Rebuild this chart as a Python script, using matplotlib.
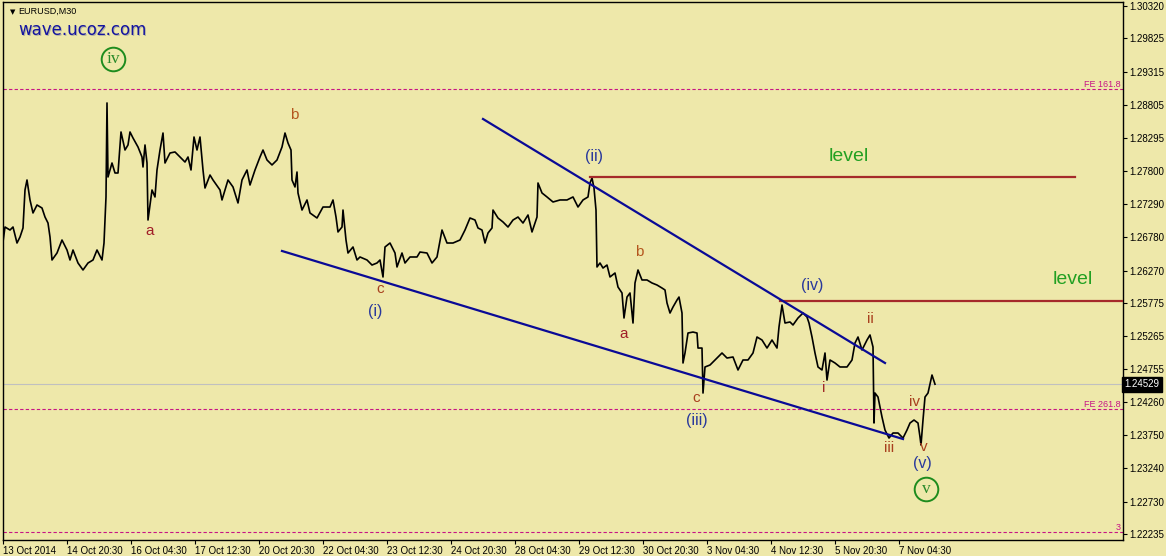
import matplotlib
matplotlib.use("Agg")
import matplotlib.pyplot as plt

# EURUSD M30 close prices (bar index, price)
bars = [0, 2, 7, 10, 14, 17, 20, 22, 24, 27, 30, 34, 39, 42, 45, 47, 49, 54, 59, 64,
        67, 70, 75, 80, 85, 90, 94, 99, 101, 103, 104, 105, 109, 112, 115, 118, 122, 125, 127, 130,
        135, 139, 140, 142, 144, 145, 149, 152, 154, 157, 160, 162, 167, 172, 177, 182, 185, 188, 191, 194,
        197, 200, 202, 207, 210, 217, 219, 222, 225, 230, 235, 239, 244, 247, 252, 257, 260, 264, 269, 274,
        279, 282, 285, 288, 289, 292, 294, 295, 299, 304, 307, 314, 320, 327, 330, 333, 335, 339, 340, 343,
        345, 350, 354, 357, 364, 369, 374, 377, 380, 382, 387, 392, 394, 399, 402, 407, 414, 417, 424, 429,
        434, 439, 444, 450, 457, 462, 467, 472, 475, 479, 482, 485, 489, 490, 495, 500, 505, 510, 515, 520,
        525, 529, 534, 535, 539, 544, 550, 557, 564, 570, 575, 580, 585, 587, 589, 591, 593, 594, 597, 600,
        604, 607, 612, 615, 619, 621, 624, 627, 630, 632, 635, 639, 644, 649, 654, 659, 662, 664, 667, 670,
        674, 676, 679, 680, 682, 685, 690, 694, 695, 699, 700, 702, 707, 714, 719, 724, 730, 735, 740, 745,
        750, 754, 759, 764, 769, 774, 776, 779, 782, 787, 790, 795, 800, 804, 806, 809, 812, 815, 819, 822,
        824, 827, 832, 837, 844, 849, 852, 855, 859, 864, 867, 870, 871, 872, 875, 879, 882, 886, 890, 895,
        900, 904, 907, 911, 915, 917, 918, 920, 922, 925, 929, 932]
close = [1.26707, 1.26936, 1.26890, 1.26936, 1.26691, 1.26783, 1.26921, 1.27503, 1.27656, 1.27350,
         1.27151, 1.27273, 1.27227, 1.27089, 1.26997, 1.26783, 1.26431, 1.26538, 1.26737, 1.26584,
         1.26431, 1.26584, 1.26385, 1.26278, 1.26385, 1.26431, 1.26584, 1.26431, 1.26691, 1.27396,
         1.28835, 1.27702, 1.27916, 1.27763, 1.27763, 1.28391, 1.28115, 1.28192, 1.28391, 1.28299,
         1.28161, 1.28008, 1.27855, 1.28192, 1.27916, 1.27043, 1.27503, 1.27396, 1.27809, 1.28115,
         1.28375, 1.27916, 1.28069, 1.28085, 1.28008, 1.27931, 1.28008, 1.27809, 1.28314, 1.28115,
         1.28314, 1.27809, 1.27533, 1.27732, 1.27656, 1.27503, 1.27350, 1.27503, 1.27656, 1.27549,
         1.27304, 1.27656, 1.27809, 1.27579, 1.27809, 1.28008, 1.28115, 1.27962, 1.27886, 1.27962,
         1.28161, 1.28375, 1.28222, 1.28115, 1.27656, 1.27549, 1.27778, 1.27457, 1.27196, 1.27350,
         1.27151, 1.27074, 1.27242, 1.27242, 1.27350, 1.27089, 1.26860, 1.26936, 1.27196, 1.26737,
         1.26538, 1.26630, 1.26431, 1.26477, 1.26431, 1.26354, 1.26385, 1.26431, 1.26171, 1.26630,
         1.26691, 1.26538, 1.26324, 1.26538, 1.26385, 1.26477, 1.26477, 1.26553, 1.26538, 1.26385,
         1.26477, 1.26890, 1.26691, 1.26691, 1.26737, 1.26890, 1.27074, 1.27043, 1.26921, 1.26890,
         1.26691, 1.26844, 1.26921, 1.27196, 1.27074, 1.27013, 1.26936, 1.27043, 1.27089, 1.26997,
         1.27120, 1.26860, 1.27089, 1.27610, 1.27457, 1.27396, 1.27319, 1.27350, 1.27350, 1.27396,
         1.27242, 1.27350, 1.27396, 1.27610, 1.27686, 1.27533, 1.27196, 1.26324, 1.26385, 1.26308,
         1.26354, 1.26171, 1.26232, 1.26017, 1.25926, 1.25543, 1.25864, 1.25926, 1.25466, 1.26079,
         1.26278, 1.26125, 1.26125, 1.26079, 1.26048, 1.26002, 1.25972, 1.25773, 1.25619, 1.25711,
         1.25818, 1.25864, 1.25619, 1.24854, 1.25007, 1.25313, 1.25328, 1.25313, 1.25083, 1.25083,
         1.24394, 1.24793, 1.24823, 1.24930, 1.25007, 1.24930, 1.24946, 1.24747, 1.24900, 1.24900,
         1.25007, 1.25252, 1.25206, 1.25083, 1.25206, 1.25083, 1.25405, 1.25742, 1.25466, 1.25482,
         1.25436, 1.25543, 1.25619, 1.25558, 1.25466, 1.25252, 1.25007, 1.24793, 1.24747, 1.25007,
         1.24593, 1.24900, 1.24854, 1.24793, 1.24793, 1.24900, 1.25160, 1.25252, 1.25053, 1.25206,
         1.25283, 1.25099, 1.23935, 1.24394, 1.24333, 1.24027, 1.23828, 1.23705, 1.23782, 1.23782,
         1.23705, 1.23828, 1.23935, 1.23981, 1.23935, 1.23721, 1.23598, 1.23981, 1.24333, 1.24394,
         1.24670, 1.24529]

last_price = 1.24529

# wedge trend lines (start/end bar, price)
lower_x = [279, 900]
lower_y = [1.26569, 1.23690]
upper_x = [480, 882]
upper_y = [1.28590, 1.24854]

# resistance levels
level_prices = [1.27702, 1.25803]
level_starts = [587, 777]
level_ends = [1072, 1120]

# fibonacci expansion lines
fe_prices = [1.29049, 1.24149, 1.22268]
fe_labels = ["FE 161.8", "FE 261.8", "3"]

yticks = [1.30320, 1.29825, 1.29315, 1.28805, 1.28295, 1.27800, 1.27290, 1.26780, 1.26270,
          1.25775, 1.25265, 1.24755, 1.24260, 1.23750, 1.23240, 1.22730, 1.22235]
xticks = [0, 64, 128, 192, 256, 320, 384, 448, 512, 576, 640, 704, 768, 832, 896]
xlabels = ["13 Oct 2014", "14 Oct 20:30", "16 Oct 04:30", "17 Oct 12:30", "20 Oct 20:30",
           "22 Oct 04:30", "23 Oct 12:30", "24 Oct 20:30", "28 Oct 04:30", "29 Oct 12:30",
           "30 Oct 20:30", "3 Nov 04:30", "4 Nov 12:30", "5 Nov 20:30", "7 Nov 04:30"]

# wave labels: (text, bar, price, colour)
minor_labels = [("a", 147, 1.26875, "#a01e28"), ("b", 291, 1.28651, "#b4561e"),
                ("c", 377, 1.25987, "#a8401e"), ("a", 621, 1.25298, "#a01e28"),
                ("b", 636, 1.26553, "#b4561e"), ("c", 693, 1.24318, "#a8401e"),
                ("i", 821, 1.24471, "#a02a28"), ("ii", 867, 1.25528, "#a8401e"),
                ("iii", 886, 1.23552, "#a8401e"), ("iv", 912, 1.24256, "#a8401e"),
                ("v", 921, 1.23568, "#a8401e")]
inter_labels = [("(i)", 372, 1.25650), ("(ii)", 591, 1.28008), ("(iii)", 694, 1.23966),
                ("(iv)", 809, 1.26048), ("(v)", 919, 1.23322)]
circled = [("iv", 110, 1.29509), ("v", 923, 1.22925)]
level_text = [(846, 1.28008), (1070, 1.26125)]

bg = "#eee8aa"
plt.rcParams["font.family"] = ["Liberation Sans", "DejaVu Sans"]

fig = plt.figure(figsize=(11.66, 5.56), dpi=100, facecolor=bg)
ax = fig.add_axes([3 / 1166, 16 / 556, 1120 / 1166, 538 / 556])
ax.set_facecolor(bg)
ax.set_xlim(0, 1120)
ax.set_ylim(1.22144, 1.30381)

ax.axhline(last_price, color="#c0c0c0", lw=0.8, zorder=1)
for p, lab in zip(fe_prices, fe_labels):
    ax.axhline(p, color="#c71585", lw=0.8, ls=(0, (3, 2)), zorder=1)
    ax.text(1118, p, lab, color="#c71585", fontsize=6.5, ha="right", va="bottom")

ax.plot(bars, close, color="black", lw=1.2, zorder=2)

for x0, x1, p in zip(level_starts, level_ends, level_prices):
    ax.plot([x0, x1], [p, p], color="#a52a2a", lw=1.6, zorder=3)
ax.plot(lower_x, lower_y, color="#0a0a96", lw=1.6, zorder=3)
ax.plot(upper_x, upper_y, color="#0a0a96", lw=1.6, zorder=3)

for t, x, y, c in minor_labels:
    ax.text(x, y, t, color=c, fontsize=11, ha="center", va="center", zorder=4)
for t, x, y in inter_labels:
    ax.text(x, y, t, color="#28389c", fontsize=11.5, ha="center", va="center", zorder=4)
for t, x, y in circled:
    ax.plot([x], [y], "o", ms=17, mfc="none", mec="#1e8c1e", mew=1.4, zorder=4)
    ax.text(x, y, t, color="#2a8a2a", fontsize=12.5, family="Liberation Serif",
            ha="center", va="center", zorder=4)
for x, y in level_text:
    ax.text(x, y, "level", color="#22a022", fontsize=14, ha="center", va="center", zorder=4)

ax.text(16, 1.29932, "wave.ucoz.com", color="#b4b4a0", fontsize=12, family="DejaVu Sans",
        ha="left", va="center", zorder=4)
ax.text(15, 1.29952, "wave.ucoz.com", color="#1414a0", fontsize=12, family="DejaVu Sans",
        ha="left", va="center", zorder=5)
ax.text(0.006, 0.982, "\u25bc", transform=ax.transAxes, fontsize=5, family="DejaVu Sans",
        ha="left", va="center")
ax.text(0.014, 0.982, "EURUSD,M30", transform=ax.transAxes, fontsize=6.5, ha="left", va="center")

ax.yaxis.tick_right()
ax.set_yticks(yticks)
ax.set_yticklabels([f"{v:.5f}" for v in yticks])
ax.set_xticks(xticks)
ax.set_xticklabels(xlabels, ha="left")
ax.tick_params(axis="both", length=3, width=0.8, labelsize=7, pad=1.5, colors="black")
for s in ax.spines.values():
    s.set_color("black")
    s.set_linewidth(1)

ax.text(1.0015, last_price, f"{last_price:.5f}", transform=ax.get_yaxis_transform(),
        fontsize=7, color="white", ha="left", va="center",
        bbox=dict(boxstyle="square,pad=0.25", fc="black", ec="black"), zorder=6)

fig.savefig("out.png", dpi=100, facecolor=bg)
